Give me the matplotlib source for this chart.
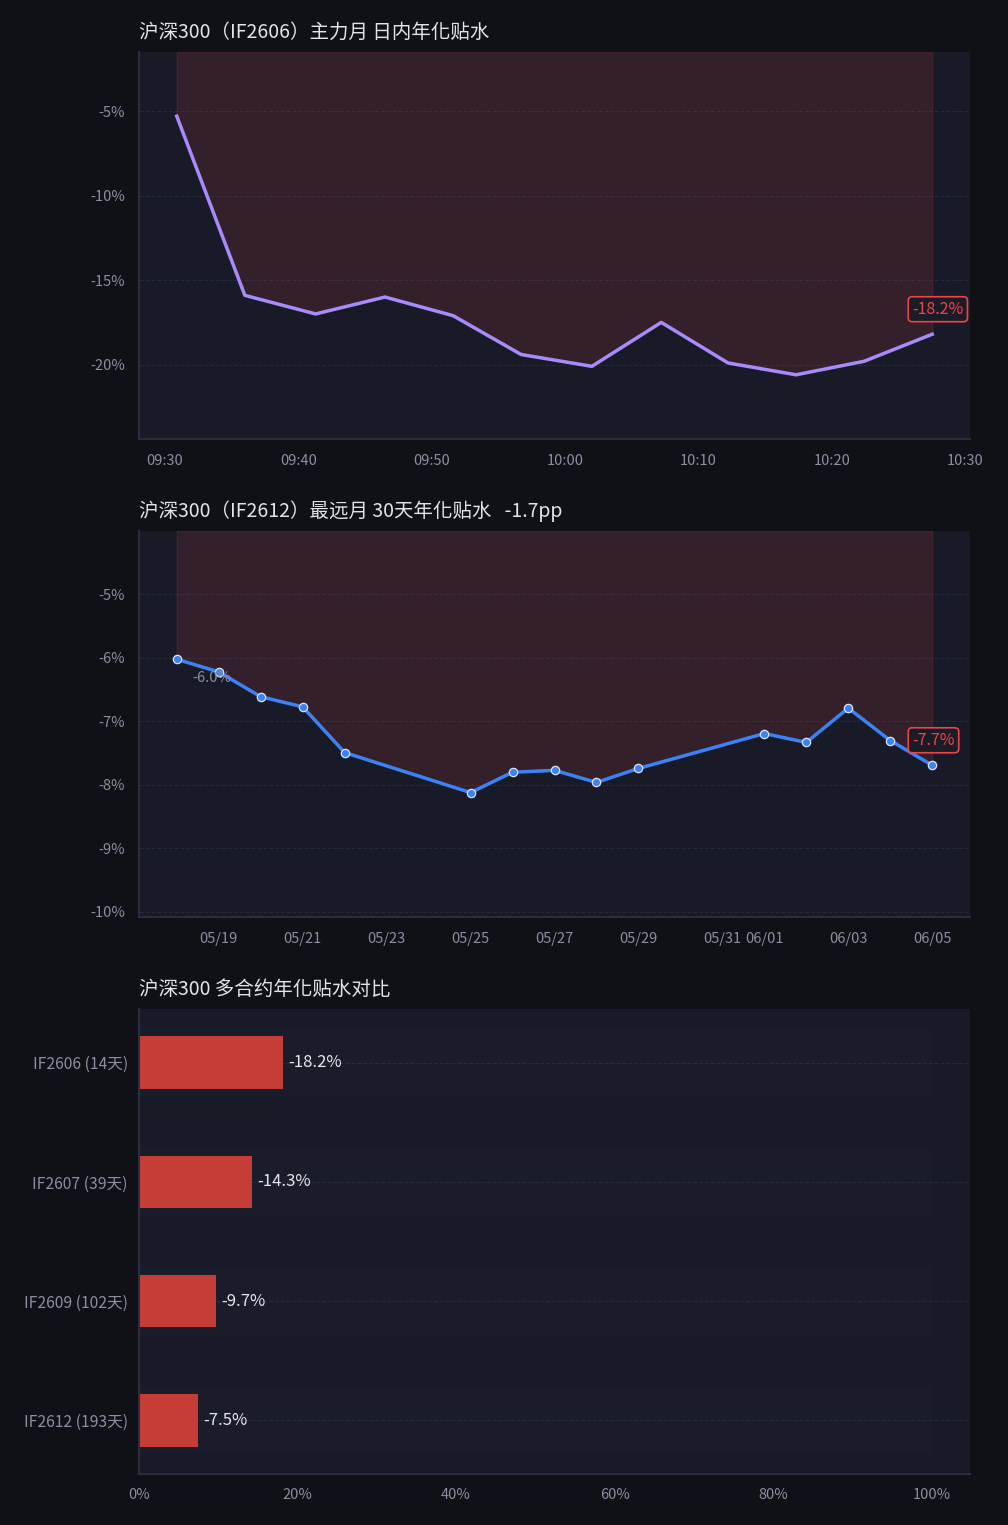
import matplotlib
matplotlib.use("Agg")
import matplotlib.pyplot as plt
import matplotlib.dates as mdates
import numpy as np
import pandas as pd

plt.rcParams['font.family'] = ['Noto Sans CJK TC', 'DejaVu Sans']

# intraday annualised discount, IF2606
intraday_times = ["09:30:54", "09:36:00", "09:41:18", "09:46:30", "09:51:36", "09:56:42",
                  "10:02:00", "10:07:12", "10:12:12", "10:17:18", "10:22:24", "10:27:30"]
intraday_vals = [-5.3, -15.9, -17.0, -16.0, -17.1, -19.4, -20.1, -17.5, -19.9, -20.6, -19.8, -18.2]

# 30-day annualised discount, IF2612
daily_dates = ["2026-05-18", "2026-05-19", "2026-05-20", "2026-05-21", "2026-05-22",
               "2026-05-25", "2026-05-26", "2026-05-27", "2026-05-28", "2026-05-29",
               "2026-06-01", "2026-06-02", "2026-06-03", "2026-06-04", "2026-06-05"]
daily_vals = [-6.02, -6.22, -6.61, -6.77, -7.49, -8.12, -7.80, -7.77, -7.96, -7.74,
              -7.19, -7.33, -6.79, -7.30, -7.69]

# contract comparison
contracts = ["IF2606 (14天)", "IF2607 (39天)", "IF2609 (102天)", "IF2612 (193天)"]
contract_vals = [-18.2, -14.3, -9.7, -7.5]

BG = "#0f1117"
AX_BG = "#181b27"
GRID = "#262a38"
SPINE = "#2a2e3e"
TICK = "#8b90a1"
TITLE = "#e2e4ea"
RED = "#ef4444"
FILL = "#ef4444"

W, H = 1008, 1525
fig = plt.figure(figsize=(W / 100, H / 100), dpi=100, facecolor=BG)


def px_axes(left, top, right, bottom):
    return fig.add_axes([left / W, (H - bottom) / H, (right - left) / W, (bottom - top) / H])


def style(ax):
    ax.set_facecolor(AX_BG)
    for s in ["top", "right"]:
        ax.spines[s].set_visible(False)
    for s in ["left", "bottom"]:
        ax.spines[s].set_color(SPINE)
        ax.spines[s].set_linewidth(1.5)
    ax.tick_params(colors=TICK, labelsize=10.5, length=0, pad=10)
    ax.grid(axis="y", color=GRID, linestyle="--", linewidth=0.8)
    ax.set_axisbelow(True)


def end_label(ax, x, y, text):
    ax.annotate(text, (x, y), xytext=(-20, 25), textcoords="offset pixels",
                ha="left", va="center", color=RED, fontsize=11.5,
                bbox=dict(boxstyle="round,pad=0.25", fc="#1b1c27", ec=RED, lw=1.2))


# --- top: intraday ---
ax1 = px_axes(139, 52, 970, 439)
style(ax1)
t = pd.to_datetime(["2026-06-05 " + s for s in intraday_times])
v = np.array(intraday_vals)
ylim1 = (-24.4, -1.5)
ax1.fill_between(t, v, ylim1[1], color=FILL, alpha=0.13, linewidth=1.0, edgecolor=(0.94, 0.27, 0.27, 0.25))
ax1.plot(t, v, color="#a78bfa", linewidth=2.5)
ax1.set_ylim(*ylim1)
ax1.set_yticks([-5, -10, -15, -20])
ax1.set_yticklabels([f"{k}%" for k in [-5, -10, -15, -20]])
ax1.xaxis.set_major_locator(mdates.MinuteLocator(byminute=range(0, 60, 10)))
ax1.xaxis.set_major_formatter(mdates.DateFormatter("%H:%M"))
ax1.tick_params(axis="x", pad=11)
end_label(ax1, t[-1], v[-1], f"{v[-1]:.1f}%")
ax1.set_title("沪深300（IF2606）主力月 日内年化贴水", loc="left", color=TITLE, fontsize=14, pad=10)

# --- middle: daily ---
ax2 = px_axes(139, 531, 970, 917)
style(ax2)
d = pd.to_datetime(daily_dates)
dv = np.array(daily_vals)
ylim2 = (-10.08, -4.0)
ax2.fill_between(d, dv, ylim2[1], color=FILL, alpha=0.13, linewidth=1.0, edgecolor=(0.94, 0.27, 0.27, 0.25))
ax2.plot(d, dv, color="#3b82f6", linewidth=2.5, marker="o", markersize=6,
         markerfacecolor="#3b82f6", markeredgecolor="#dbe4ff", markeredgewidth=0.9)
ax2.set_ylim(*ylim2)
yt2 = [-5, -6, -7, -8, -9, -10]
ax2.set_yticks(yt2)
ax2.set_yticklabels([f"{k}%" for k in yt2])
ax2.xaxis.set_major_locator(mdates.DayLocator(bymonthday=range(1, 32, 2)))
ax2.xaxis.set_major_formatter(mdates.DateFormatter("%m/%d"))
ax2.tick_params(axis="x", pad=11)
ax2.annotate(f"{dv[0]:.1f}%", (d[0], dv[0]), xytext=(35, -19), textcoords="offset pixels",
             ha="center", va="center", color=TICK, fontsize=10.5)
end_label(ax2, d[-1], dv[-1], f"{dv[-1]:.1f}%")
ax2.set_title("沪深300（IF2612）最远月 30天年化贴水   -1.7pp", loc="left", color=TITLE, fontsize=14, pad=10)

# --- bottom: bars ---
ax3 = px_axes(139, 1009, 970, 1474)
style(ax3)
ypos = np.arange(len(contracts))
mags = np.abs(contract_vals)
ax3.barh(ypos, 100, height=0.56, color="#ffffff", alpha=0.012, zorder=1)
ax3.barh(ypos, mags, height=0.44, color="#c53d36", zorder=2)
for yy, m, val in zip(ypos, mags, contract_vals):
    ax3.annotate(f"{val:.1f}%", (m, yy), xytext=(5, 0), textcoords="offset pixels",
                 ha="left", va="center", color="#e5e7eb", fontsize=12)
ax3.set_yticks(ypos)
ax3.set_yticklabels(contracts)
ax3.tick_params(axis="y", labelsize=11.3, pad=8)
ax3.set_ylim(3.45, -0.45)
ax3.set_xlim(0, 104.8)
xt3 = [0, 20, 40, 60, 80, 100]
ax3.set_xticks(xt3)
ax3.set_xticklabels([f"{k}%" for k in xt3])
ax3.set_title("沪深300 多合约年化贴水对比", loc="left", color=TITLE, fontsize=14, pad=10)

fig.savefig("out.png", dpi=100, facecolor=BG)
